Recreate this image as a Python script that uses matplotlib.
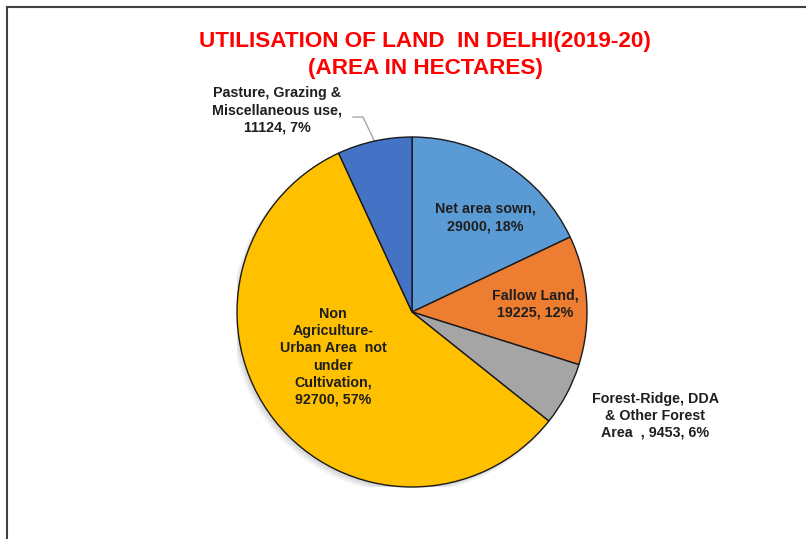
import numpy as np
import matplotlib
matplotlib.use("Agg")
import matplotlib.pyplot as plt
from matplotlib.lines import Line2D
from matplotlib.patches import Circle

# ---- data ----
categories = ["Net area sown", "Fallow Land", "Forest-Ridge, DDA\n& Other Forest\nArea  ",
              "Non\nAgriculture-\nUrban Area  not\nunder\nCultivation", "Pasture, Grazing &\nMiscellaneous use"]
values = [29000, 19225, 9453, 92700, 11124]
percent_labels = ["18%", "12%", "6%", "57%", "7%"]
separators = [",\n", ",\n", ", ", ",\n", ",\n"]
colors = ["#5B9BD5", "#ED7D31", "#A5A5A5", "#FFC000", "#4472C4"]
title = "UTILISATION OF LAND  IN DELHI(2019-20)\n(AREA IN HECTARES)"

W, H = 806, 539
fig = plt.figure(figsize=(W / 100, H / 100), dpi=100)
fig.patch.set_facecolor("white")

# frame (extends beyond image to right/bottom)
fig.add_artist(Line2D([7 / W, 1.0], [1 - 7 / H, 1 - 7 / H], color="#404040", lw=1.5))
fig.add_artist(Line2D([7 / W, 7 / W], [0.0, 1 - 7 / H], color="#404040", lw=1.5))

# pie axes: centre (412,312) px, radius 175 px
cx, cy, r = 412, 312, 175
ax = fig.add_axes([(cx - r) / W, (H - cy - r) / H, 2 * r / W, 2 * r / H])
ax.set_xlim(-1, 1)
ax.set_ylim(-1, 1)
ax.set_aspect("equal")
ax.axis("off")

# soft shadow
for i, a in enumerate([0.06, 0.05, 0.04]):
    ax.add_patch(Circle((-0.012 - 0.006 * i, -0.015 - 0.006 * i), 1.0 + 0.004 * i,
                        color="black", alpha=a, zorder=0, lw=0))

wedges, _ = ax.pie(values, colors=colors, startangle=90, counterclock=False,
                   radius=1.0, wedgeprops=dict(edgecolor="#1a1a1a", linewidth=1.0),
                   frame=False)
for w in wedges:
    w.set_zorder(2)
ax.set_xlim(-1, 1)
ax.set_ylim(-1, 1)

labels = [f"{c}{s}{v}, {p}" for c, s, v, p in zip(categories, separators, values, percent_labels)]
label_pos = [(0.417, 0.54), (0.703, 0.045), (1.389, -0.593), (-0.451, -0.257), (-0.771, 1.154)]
txt_kw = dict(ha="center", va="center", fontsize=10.3, fontweight="bold",
              family="Liberation Sans", color="#1f1f1f", linespacing=1.28, zorder=5)
for lab, (x, y) in zip(labels, label_pos):
    ax.text(x, y, lab, **txt_kw)

# leader line for pasture label
w = wedges[4]
mid = np.deg2rad((w.theta1 + w.theta2) / 2)
ex, ey = np.cos(mid), np.sin(mid)
ax.add_line(Line2D([-0.337, -0.28, ex], [1.114, 1.114, ey], color="#A6A6A6", lw=1.0,
                   clip_on=False, zorder=1))

fig.text(425 / W, 1 - 55 / H, title, ha="center", va="center", color="#FF0000",
         fontsize=16.2, fontweight="bold", family="Liberation Sans", linespacing=1.38)

fig.savefig("out.png", dpi=100, facecolor="white")
